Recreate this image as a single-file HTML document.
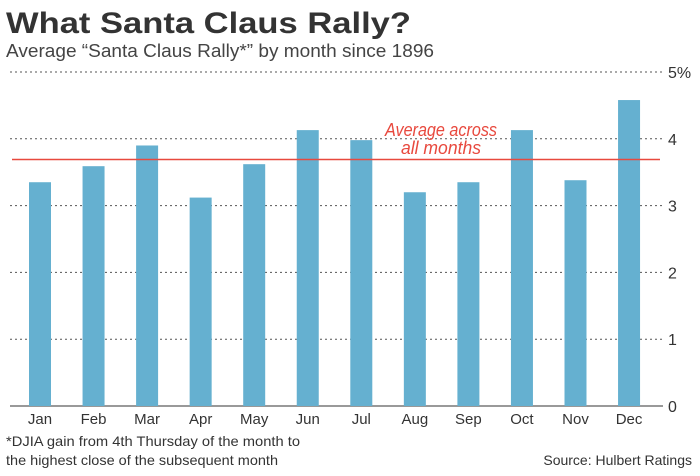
<!DOCTYPE html>
<html><head><meta charset="utf-8"><style>
body{margin:0;background:#fff;width:700px;height:471px;overflow:hidden;font-family:"Liberation Sans",sans-serif;}
</style></head><body>
<svg width="700" height="471">
<text x="6" y="33" font-size="30" font-weight="bold" fill="#333" textLength="405" lengthAdjust="spacingAndGlyphs">What Santa Claus Rally?</text>
<text x="6" y="57" font-size="18" fill="#444" textLength="428" lengthAdjust="spacingAndGlyphs">Average “Santa Claus Rally*” by month since 1896</text>
<g id="grid"></g><g id="bars"></g><g id="xl"></g><g id="yl"></g>
<line id="avg" stroke="#e8493e" stroke-width="1.5"/>
<text x="385" y="136" font-size="18" font-style="italic" fill="#e8493e" textLength="112" lengthAdjust="spacingAndGlyphs">Average across</text>
<text x="401" y="154" font-size="18" font-style="italic" fill="#e8493e" textLength="80" lengthAdjust="spacingAndGlyphs">all months</text>
<text x="6" y="446" font-size="14" fill="#333" textLength="294" lengthAdjust="spacingAndGlyphs">*DJIA gain from 4th Thursday of the month to</text>
<text x="6" y="465" font-size="14" fill="#333" textLength="272" lengthAdjust="spacingAndGlyphs">the highest close of the subsequent month</text>
<text x="692" y="465" font-size="14" fill="#333" text-anchor="end">Source: Hulbert Ratings</text>
</svg>
<script>
const months=["Jan","Feb","Mar","Apr","May","Jun","Jul","Aug","Sep","Oct","Nov","Dec"];
const values=[3.35,3.59,3.90,3.12,3.62,4.13,3.98,3.20,3.35,4.13,3.38,4.58];
const average=[3.69];
const ticks=[0,1,2,3,4,5];
const tickLabels=["0","1","2","3","4","5%"];
const NS="http://www.w3.org/2000/svg";
const y=v=>406-v*66.8;
const x=i=>40+i*53.55;
function mk(t,a,p){const e=document.createElementNS(NS,t);for(const k in a)e.setAttribute(k,a[k]);document.getElementById(p).appendChild(e);return e;}
ticks.forEach((t,i)=>{
 if(t>0){const l=mk("line",{x1:10,x2:663,y1:y(t),y2:y(t),stroke:"#555","stroke-dasharray":"2,3","stroke-width":1},"grid");
 
 }
 const tx=mk("text",{x:668,y:y(t)+6,"font-size":16,fill:"#333"},"yl");tx.textContent=tickLabels[i];
 
 
});
const base=mk("line",{x1:10,x2:663,y1:406,y2:406,stroke:"#333","stroke-width":1},"grid");


values.forEach((v,i)=>{
 const r=mk("rect",{x:x(i)-11,y:y(v),width:22,height:406-y(v),fill:"#65b0d0"},"bars");
 
 
 const t=mk("text",{x:x(i),y:424,"font-size":15,fill:"#333","text-anchor":"middle"},"xl");t.textContent=months[i];
 
 
});
const a=document.getElementById("avg");
a.setAttribute("x1",12);a.setAttribute("x2",660);a.setAttribute("y1",y(average[0]));a.setAttribute("y2",y(average[0]));
</script>
</body></html>
